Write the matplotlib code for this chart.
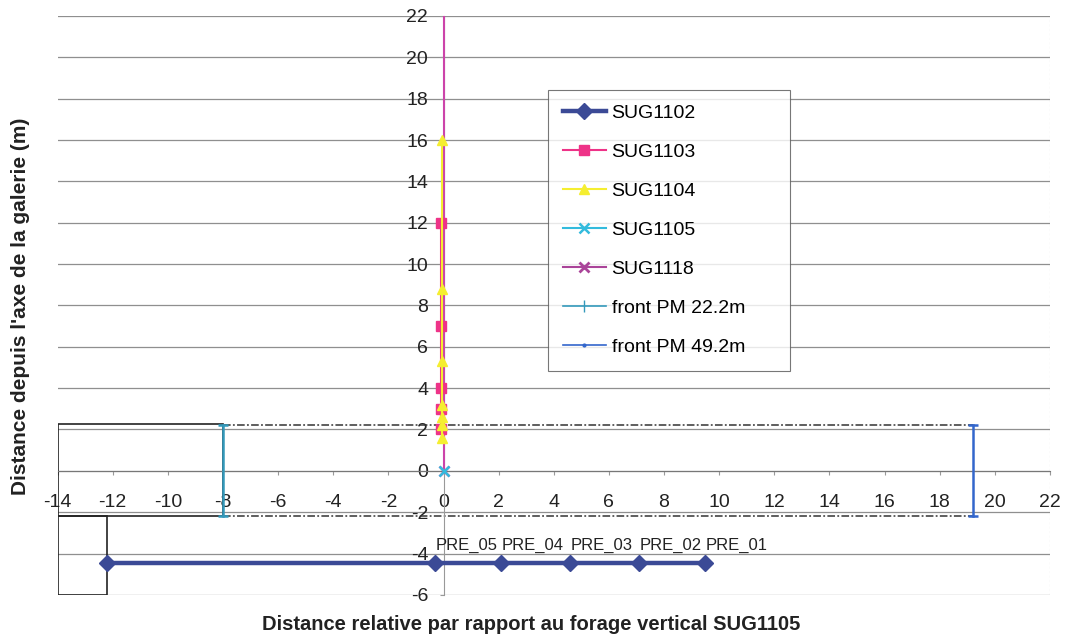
import matplotlib.pyplot as plt
from matplotlib.patches import Rectangle
from matplotlib.lines import Line2D

plt.rcParams['font.family'] = ['Liberation Sans', 'DejaVu Sans']
plt.rcParams['axes.unicode_minus'] = False

# SUG1102 - horizontal borehole (PRE points)
sug1102_x = [-12.2, -0.3, 2.1, 4.6, 7.1, 9.5]
sug1102_y = [-4.45, -4.45, -4.45, -4.45, -4.45, -4.45]
pre_labels = ['PRE_05', 'PRE_04', 'PRE_03', 'PRE_02', 'PRE_01']

# vertical boreholes
sug1103_x = [-0.1, -0.1, -0.1, -0.1, -0.1]
sug1103_y = [2, 3, 4, 7, 12]
sug1104_x = [-0.05, -0.05, -0.05, -0.05, -0.05, -0.05, -0.05]
sug1104_y = [1.6, 2.2, 2.6, 3.2, 5.3, 8.8, 16]
sug1105_x = [0]
sug1105_y = [0]
sug1118_x = [0, 0]
sug1118_y = [0, 22]

# excavation fronts
front22_x = [-8, -8]
front22_y = [-2.2, 2.2]
front49_x = [19.2, 19.2]
front49_y = [-2.2, 2.2]

# gallery outline
gal_x = [-8, 19.2]
gal_top = 2.2
gal_bot = -2.2

fig = plt.figure(figsize=(10.67, 6.39), dpi=100)
ax = fig.add_axes([0.054, 0.069, 0.930, 0.906])

# grid
for y in range(-6, 23, 2):
    ax.axhline(y, color='#8f8f8f', lw=0.9, zorder=0)
ax.axvline(22, color='#c4c4c4', lw=0.8, ls=(0, (2, 2)), zorder=0)

# gallery boxes
ax.add_patch(Rectangle((-14, -2.2), 6, 4.45, fill=False, ec='#222222', lw=1.2, zorder=2))
ax.add_patch(Rectangle((-14, -6), 1.8, 3.8, fill=False, ec='#222222', lw=1.2, zorder=2))
ax.plot(gal_x, [gal_top, gal_top], color='#333333', lw=1.1, ls=(0, (5, 1.5, 1.2, 1.5)), zorder=2)
ax.plot(gal_x, [gal_bot, gal_bot], color='#333333', lw=1.1, ls=(0, (5, 1.5, 1.2, 1.5)), zorder=2)

ax.plot(sug1118_x, sug1118_y, color='#cc44aa', lw=1.5, marker='x', ms=7, mew=1.8,
        markevery=[0], zorder=3)
ax.plot(sug1102_x, sug1102_y, color='#3b4a96', lw=3.2, marker='D', ms=8, zorder=4)
ax.plot(sug1103_x, sug1103_y, color='#ee3388', lw=1.5, marker='s', ms=7, zorder=4)
ax.plot(sug1104_x, sug1104_y, color='#f5ee30', lw=1.5, marker='^', ms=7, zorder=4)
ax.plot(sug1105_x, sug1105_y, color='#33bbdd', lw=1.5, marker='x', ms=7, mew=1.8, zorder=5)
ax.plot(front22_x, front22_y, color='#3399bb', lw=1.8, marker='_', ms=7, mew=1.8, zorder=4)
ax.plot(front49_x, front49_y, color='#3366cc', lw=1.8, marker='_', ms=7, mew=1.8, zorder=4)

for x, y, t in zip(sug1102_x[1:], sug1102_y[1:], pre_labels):
    ax.text(x, y + 0.5, t, fontsize=12, ha='left', va='bottom', color='#222222')

ax.set_xlim(-14, 22)
ax.set_ylim(-6, 22)
ax.set_xticks(range(-14, 23, 2))
ax.set_yticks(range(-6, 23, 2))

for s in ['top', 'right']:
    ax.spines[s].set_visible(False)
ax.spines['left'].set_position(('data', 0))
ax.spines['bottom'].set_position(('data', 0))
ax.spines['left'].set_color('#999999')
ax.spines['bottom'].set_color('#777777')
ax.tick_params(axis='x', length=3, color='#999999', labelsize=14, pad=14, colors='#222222')
ax.tick_params(axis='y', length=3, color='#999999', labelsize=14, pad=8, colors='#222222')

# legend
names = ['SUG1102', 'SUG1103', 'SUG1104', 'SUG1105', 'SUG1118', 'front PM 22.2m', 'front PM 49.2m']
handles = [
    Line2D([], [], color='#3b4a96', lw=3.2, marker='D', ms=8),
    Line2D([], [], color='#ee3388', lw=1.5, marker='s', ms=7),
    Line2D([], [], color='#f5ee30', lw=1.5, marker='^', ms=7),
    Line2D([], [], color='#33bbdd', lw=1.5, marker='x', ms=7, mew=1.8),
    Line2D([], [], color='#aa4499', lw=1.5, marker='x', ms=7, mew=2),
    Line2D([], [], color='#3399bb', lw=1.2, marker='|', ms=8),
    Line2D([], [], color='#3366cc', lw=1.2, marker='.', ms=4),
]
leg = ax.legend(handles, names, loc='upper left', mode='expand',
                bbox_to_anchor=(0.4945, 0.5, 0.2437, 0.372), fontsize=14, frameon=True,
                fancybox=False, edgecolor='#555555', labelspacing=1.1,
                handlelength=2.2, handletextpad=0.3, borderpad=0.75, borderaxespad=0)
leg.get_frame().set_linewidth(0.8)

fig.text(0.010, 0.52, "Distance depuis l'axe de la galerie (m)", rotation=90,
         fontsize=15, fontweight='bold', ha='left', va='center', color='#222222')
fig.text(0.498, 0.022, 'Distance relative par rapport au forage vertical SUG1105',
         fontsize=14.5, fontweight='bold', ha='center', va='center', color='#222222')

fig.savefig('out.png', dpi=100)
